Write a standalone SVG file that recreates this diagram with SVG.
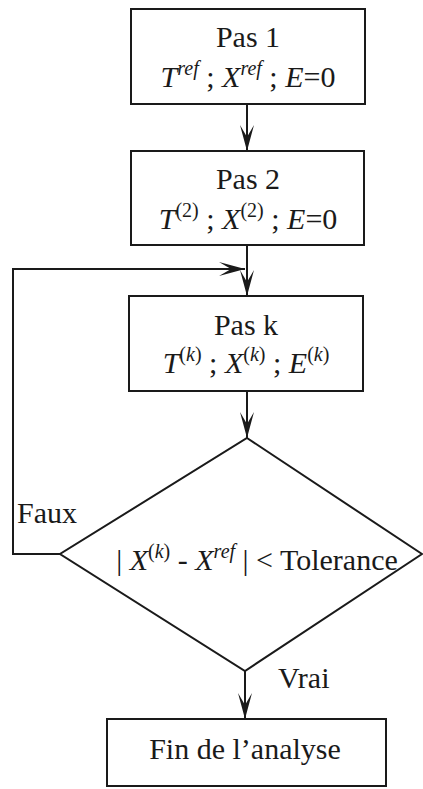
<svg xmlns="http://www.w3.org/2000/svg" width="423" height="789" viewBox="0 0 423 789">
<style>
.box{fill:#fff;stroke:#1a1a1a;stroke-width:2}
.ln{fill:none;stroke:#1a1a1a;stroke-width:2}
text{font-family:'Liberation Serif','DejaVu Serif',Times,serif;font-size:30px;fill:#1a1a1a}
.t{text-anchor:middle}
.i{font-style:italic}
.s{font-size:20px}
</style>
<defs>
<marker id="ah" markerUnits="userSpaceOnUse" viewBox="-27 -8 28 16" markerWidth="28" markerHeight="16" refX="0" refY="0" orient="auto">
<path d="M0,0 L-26,-7 L-14,0 L-26,7 Z" fill="#1a1a1a"/>
</marker>
</defs>
<rect width="423" height="789" fill="#fff"/>
<g id="connectors">
<line class="ln" x1="247" y1="104" x2="247" y2="151" marker-end="url(#ah)"/>
<line class="ln" x1="247" y1="245" x2="247" y2="296" marker-end="url(#ah)"/>
<polyline class="ln" points="60,554 13,554 13,269 245,269" marker-end="url(#ah)"/>
<line class="ln" x1="247" y1="391" x2="247" y2="438" marker-end="url(#ah)"/>
<line class="ln" x1="245" y1="671" x2="245" y2="719" marker-end="url(#ah)"/>
<text x="17" y="523" font-family="Liberation Serif, serif">Faux</text>
<text x="278" y="688" font-family="Liberation Serif, serif">Vrai</text>
</g>
<g id="pas1">
<rect class="box" x="131" y="9" width="234" height="95"/>
<text class="t" x="248" y="47">Pas 1</text>
<text class="t" x="248" y="87"><tspan class="i">T</tspan><tspan class="i s" dy="-12">ref</tspan><tspan dy="12"> ; </tspan><tspan class="i">X</tspan><tspan class="i s" dy="-12">ref</tspan><tspan dy="12"> ; </tspan><tspan class="i">E</tspan><tspan>=0</tspan></text>
</g>
<g id="pas2">
<rect class="box" x="131" y="151" width="233" height="94"/>
<text class="t" x="248" y="189">Pas 2</text>
<text class="t" x="248" y="229"><tspan class="i">T</tspan><tspan class="s" dy="-12">(2)</tspan><tspan dy="12"> ; </tspan><tspan class="i">X</tspan><tspan class="s" dy="-12">(2)</tspan><tspan dy="12"> ; </tspan><tspan class="i">E</tspan><tspan>=0</tspan></text>
</g>
<g id="pask">
<rect class="box" x="129" y="296" width="234" height="95"/>
<text class="t" x="246" y="335">Pas k</text>
<text class="t" x="246" y="373"><tspan class="i">T</tspan><tspan class="s" dy="-12">(<tspan class="i">k</tspan>)</tspan><tspan dy="12"> ; </tspan><tspan class="i">X</tspan><tspan class="s" dy="-12">(<tspan class="i">k</tspan>)</tspan><tspan dy="12"> ; </tspan><tspan class="i">E</tspan><tspan class="s" dy="-12">(<tspan class="i">k</tspan>)</tspan></text>
</g>
<g id="test">
<polygon class="box" points="247,438 422,554 245,671 60,554"/>
<text class="t" x="257" y="570"><tspan>| </tspan><tspan class="i">X</tspan><tspan class="s" dy="-12">(<tspan class="i">k</tspan>)</tspan><tspan dy="12"> - </tspan><tspan class="i">X</tspan><tspan class="i s" dy="-12">ref</tspan><tspan dy="12"> | &lt; Tolerance</tspan></text>
</g>
<g id="fin">
<rect class="box" x="107" y="719" width="279" height="67"/>
<text class="t" x="245" y="759">Fin de l’analyse</text>
</g>
</svg>
